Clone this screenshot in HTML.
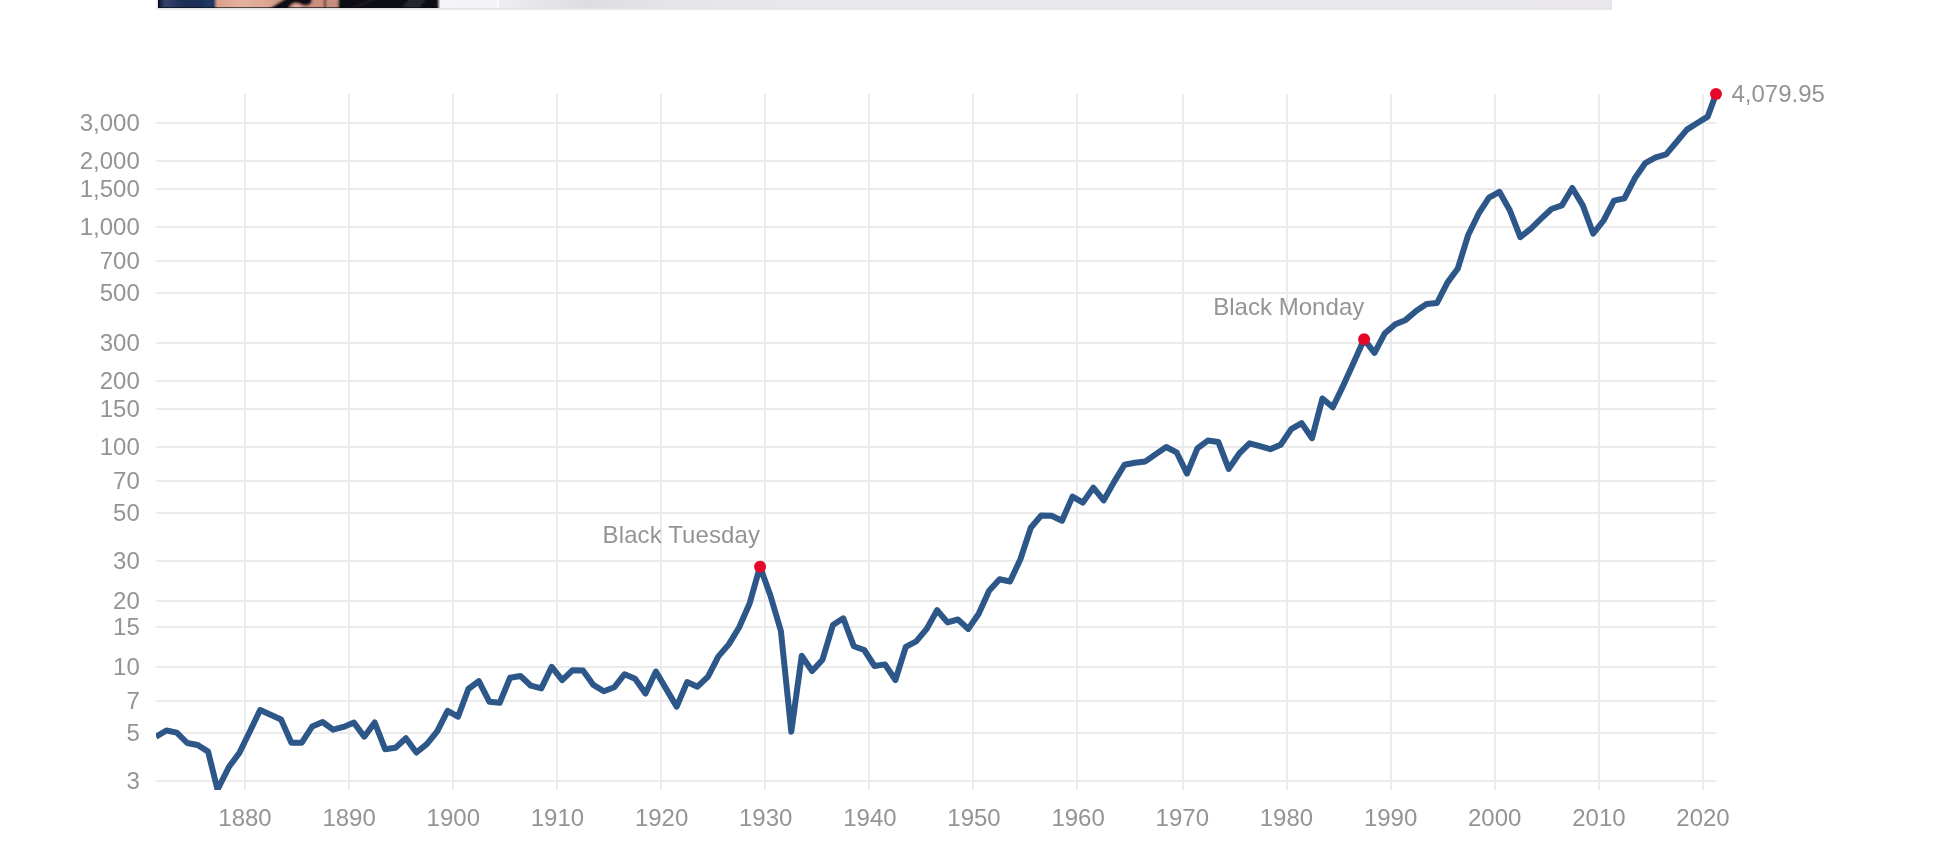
<!DOCTYPE html>
<html lang="en">
<head>
<meta charset="utf-8">
<title>S&amp;P 500 historical chart</title>
<style>
html,body{margin:0;padding:0;background:#fff;}
body{width:1942px;height:866px;overflow:hidden;position:relative;font-family:"Liberation Sans",Arial,Helvetica,sans-serif;}
svg{position:absolute;left:0;top:0;display:block;will-change:transform;}
svg text{font-family:"Liberation Sans",Arial,Helvetica,sans-serif;font-size:24px;fill:#979393;}
</style>
</head>
<body>
<svg width="1942" height="866" viewBox="0 0 1942 866">
<defs>
<clipPath id="plot"><rect x="156" y="80" width="1580" height="710"/></clipPath>
<linearGradient id="bg" gradientUnits="userSpaceOnUse" x1="158" x2="1610" y1="0" y2="0">
<stop offset="0" stop-color="#f6f5f9"/><stop offset="0.2335" stop-color="#f4f3f7"/><stop offset="0.2345" stop-color="#eeedf1"/><stop offset="0.297" stop-color="#dcdce1"/><stop offset="0.35" stop-color="#e5e4e9"/><stop offset="0.45" stop-color="#e9e8ec"/><stop offset="1" stop-color="#e9e7ec"/>
</linearGradient>
<linearGradient id="navy" gradientUnits="userSpaceOnUse" x1="158" x2="216" y1="0" y2="0">
<stop offset="0" stop-color="#0d1428"/><stop offset="0.13" stop-color="#34446c"/><stop offset="0.24" stop-color="#2b3b63"/><stop offset="0.4" stop-color="#1f3056"/><stop offset="0.75" stop-color="#1c2e54"/><stop offset="0.88" stop-color="#1d3a68"/><stop offset="1" stop-color="#1f3257"/>
</linearGradient>
<linearGradient id="skin" gradientUnits="userSpaceOnUse" x1="216" x2="288" y1="0" y2="0">
<stop offset="0" stop-color="#d9a08b"/><stop offset="0.35" stop-color="#e4b29f"/><stop offset="0.7" stop-color="#dca792"/><stop offset="1" stop-color="#c98e7a"/>
</linearGradient>
<clipPath id="photo"><rect x="158" y="0" width="282" height="8"/></clipPath>
<filter id="soft" filterUnits="userSpaceOnUse" x="140" y="-10" width="320" height="30"><feGaussianBlur stdDeviation="0.8"/></filter>
</defs>
<!-- top banner strip -->
<g id="banner">
<rect x="156.5" y="-2" width="1455.5" height="11.8" fill="#e5e5e5"/>
<rect x="158" y="-2" width="1452.5" height="10" fill="url(#bg)"/>
<g clip-path="url(#photo)">
<g filter="url(#soft)">
<rect x="150" y="-4" width="288.5" height="14" fill="#0f1119"/>
<polygon points="400,10 412,-4 428,-4 418,10" fill="#25262f"/>
<polygon points="345,10 380,-4 384,-4 349,10" fill="#1e2029"/>
<rect x="150" y="-4" width="66" height="14" fill="url(#navy)"/>
<polygon points="215.5,-4 289,-4 267,10 215.5,10" fill="url(#skin)"/>
<polygon points="287.5,10 291,5 294.5,3 299,3.6 303,5.4 308.5,5.4 311.5,3 313,-4 324.3,-4 324,10" fill="#cb8f7c"/>
<polygon points="292,8 295,4.5 299,5 302,7 298,9" fill="#dcae9e"/>
<polygon points="325.8,-4 338.6,-4 338.2,10 325.8,10" fill="#c6907d"/>
</g>
<rect x="158" y="7.2" width="280" height="0.8" fill="#070b18" opacity="0.8"/>
<rect x="158" y="0" width="1.6" height="8" fill="#080c18" opacity="0.7"/>
</g>
<rect x="497" y="0" width="2" height="8" fill="#fbfbfd" opacity="0.9"/>
</g>
<g id="grid" fill="#ebebeb">
<rect x="156" y="122" width="1560" height="2"/>
<rect x="156" y="160" width="1560" height="2"/>
<rect x="156" y="188" width="1560" height="2"/>
<rect x="156" y="226" width="1560" height="2"/>
<rect x="156" y="260" width="1560" height="2"/>
<rect x="156" y="292" width="1560" height="2"/>
<rect x="156" y="342" width="1560" height="2"/>
<rect x="156" y="380" width="1560" height="2"/>
<rect x="156" y="408" width="1560" height="2"/>
<rect x="156" y="446" width="1560" height="2"/>
<rect x="156" y="480" width="1560" height="2"/>
<rect x="156" y="512" width="1560" height="2"/>
<rect x="156" y="560" width="1560" height="2"/>
<rect x="156" y="600" width="1560" height="2"/>
<rect x="156" y="626" width="1560" height="2"/>
<rect x="156" y="666" width="1560" height="2"/>
<rect x="156" y="700" width="1560" height="2"/>
<rect x="156" y="732" width="1560" height="2"/>
<rect x="156" y="780" width="1560" height="2"/>
<rect x="244" y="94" width="2" height="696"/>
<rect x="348" y="94" width="2" height="696"/>
<rect x="452" y="94" width="2" height="696"/>
<rect x="556" y="94" width="2" height="696"/>
<rect x="660" y="94" width="2" height="696"/>
<rect x="764" y="94" width="2" height="696"/>
<rect x="868" y="94" width="2" height="696"/>
<rect x="972" y="94" width="2" height="696"/>
<rect x="1076" y="94" width="2" height="696"/>
<rect x="1182" y="94" width="2" height="696"/>
<rect x="1286" y="94" width="2" height="696"/>
<rect x="1390" y="94" width="2" height="696"/>
<rect x="1494" y="94" width="2" height="696"/>
<rect x="1598" y="94" width="2" height="696"/>
<rect x="1702" y="94" width="2" height="696"/>
</g>
<g clip-path="url(#plot)">
<path d="M156.0 736.8 L166.4 730.5 L176.8 732.6 L187.2 743.0 L197.7 745.0 L208.1 751.6 L217.5 789.6 L228.9 767.0 L239.3 753.0 L249.7 731.8 L260.1 710.0 L270.6 714.7 L281.0 719.4 L291.4 742.7 L301.8 742.7 L312.2 726.5 L322.6 722.0 L333.0 729.7 L343.5 726.9 L353.9 722.6 L364.3 736.7 L374.7 722.5 L385.1 749.2 L395.5 747.7 L405.9 738.3 L416.4 752.5 L426.8 744.1 L437.2 731.4 L447.6 710.8 L458.0 716.7 L468.4 689.0 L478.8 681.1 L489.3 701.7 L499.7 702.8 L510.1 677.7 L520.5 676.0 L530.9 685.7 L541.3 688.4 L551.7 666.9 L562.2 680.1 L572.6 670.2 L583.0 670.6 L593.4 684.9 L603.8 691.2 L614.2 687.3 L624.6 674.2 L635.1 678.8 L645.5 693.5 L655.9 671.5 L666.3 689.1 L676.7 706.6 L687.1 682.1 L697.5 686.7 L708.0 676.6 L718.4 656.4 L728.8 644.4 L739.2 627.3 L749.6 603.5 L760.0 566.6 L770.4 595.5 L780.9 631.0 L791.3 731.7 L801.7 655.8 L812.1 671.1 L822.5 659.7 L832.9 625.0 L843.3 618.3 L853.8 646.2 L864.2 650.0 L874.6 666.0 L885.0 664.4 L895.4 680.0 L905.8 646.9 L916.2 641.4 L926.7 628.9 L937.1 610.2 L947.5 622.4 L957.9 619.5 L968.3 628.9 L978.7 613.7 L989.1 590.8 L999.6 579.2 L1010.0 581.5 L1020.4 559.3 L1030.8 527.8 L1041.2 515.5 L1051.6 515.8 L1062.0 520.7 L1072.5 496.6 L1082.9 502.6 L1093.3 487.6 L1103.7 500.4 L1114.1 481.9 L1124.5 464.8 L1134.9 462.7 L1145.4 461.4 L1155.8 454.1 L1166.2 447.0 L1176.6 452.3 L1187.0 473.6 L1197.4 448.3 L1207.8 440.6 L1218.3 441.9 L1228.7 468.9 L1239.1 453.7 L1249.5 443.3 L1259.9 446.2 L1270.3 449.2 L1280.7 444.7 L1291.2 429.1 L1301.6 423.1 L1312.0 438.2 L1322.4 398.5 L1332.8 407.3 L1343.2 385.6 L1353.6 362.8 L1364.1 339.3 L1374.5 352.8 L1384.9 333.2 L1395.3 324.3 L1405.7 319.9 L1416.1 311.0 L1426.5 304.0 L1437.0 303.0 L1447.4 282.6 L1457.8 268.5 L1468.2 235.0 L1478.6 213.7 L1489.0 197.6 L1499.4 191.8 L1509.9 210.5 L1520.3 237.1 L1530.7 228.8 L1541.1 218.7 L1551.5 209.0 L1561.9 205.4 L1572.3 188.0 L1582.8 205.4 L1593.2 233.6 L1603.6 220.5 L1614.0 200.6 L1624.4 198.4 L1634.8 178.3 L1645.2 163.2 L1655.7 157.3 L1666.1 154.4 L1676.5 142.0 L1686.9 129.6 L1697.3 123.0 L1707.7 116.6 L1716.0 94.0" fill="none" stroke="#2d5789" stroke-width="6" stroke-linejoin="round" stroke-linecap="butt"/>
</g>
<g id="ylabels">
<text x="139.8" y="131.1" text-anchor="end">3,000</text>
<text x="139.8" y="169.1" text-anchor="end">2,000</text>
<text x="139.8" y="197.1" text-anchor="end">1,500</text>
<text x="139.8" y="235.1" text-anchor="end">1,000</text>
<text x="139.8" y="269.1" text-anchor="end">700</text>
<text x="139.8" y="301.1" text-anchor="end">500</text>
<text x="139.8" y="351.1" text-anchor="end">300</text>
<text x="139.8" y="389.1" text-anchor="end">200</text>
<text x="139.8" y="417.1" text-anchor="end">150</text>
<text x="139.8" y="455.1" text-anchor="end">100</text>
<text x="139.8" y="489.1" text-anchor="end">70</text>
<text x="139.8" y="521.1" text-anchor="end">50</text>
<text x="139.8" y="569.1" text-anchor="end">30</text>
<text x="139.8" y="609.1" text-anchor="end">20</text>
<text x="139.8" y="635.1" text-anchor="end">15</text>
<text x="139.8" y="675.1" text-anchor="end">10</text>
<text x="139.8" y="709.1" text-anchor="end">7</text>
<text x="139.8" y="741.1" text-anchor="end">5</text>
<text x="139.8" y="789.1" text-anchor="end">3</text>
</g>
<g id="xlabels">
<text x="245.0" y="826.2" text-anchor="middle">1880</text>
<text x="349.1" y="826.2" text-anchor="middle">1890</text>
<text x="453.3" y="826.2" text-anchor="middle">1900</text>
<text x="557.4" y="826.2" text-anchor="middle">1910</text>
<text x="661.6" y="826.2" text-anchor="middle">1920</text>
<text x="765.7" y="826.2" text-anchor="middle">1930</text>
<text x="869.9" y="826.2" text-anchor="middle">1940</text>
<text x="974.0" y="826.2" text-anchor="middle">1950</text>
<text x="1078.1" y="826.2" text-anchor="middle">1960</text>
<text x="1182.3" y="826.2" text-anchor="middle">1970</text>
<text x="1286.4" y="826.2" text-anchor="middle">1980</text>
<text x="1390.6" y="826.2" text-anchor="middle">1990</text>
<text x="1494.7" y="826.2" text-anchor="middle">2000</text>
<text x="1598.9" y="826.2" text-anchor="middle">2010</text>
<text x="1703.0" y="826.2" text-anchor="middle">2020</text>
</g>
<g id="annotations">
<text x="760" y="543.2" text-anchor="end" letter-spacing="0.1">Black Tuesday</text>
<text x="1364.3" y="315.2" text-anchor="end" letter-spacing="0.03">Black Monday</text>
<text x="1731.5" y="102">4,079.95</text>
<circle cx="760.05" cy="566.7" r="6" fill="#e6082b"/>
<circle cx="1364.1" cy="339.25" r="6" fill="#e6082b"/>
<circle cx="1716" cy="94" r="6" fill="#e6082b"/>
</g>
</svg>
</body>
</html>
